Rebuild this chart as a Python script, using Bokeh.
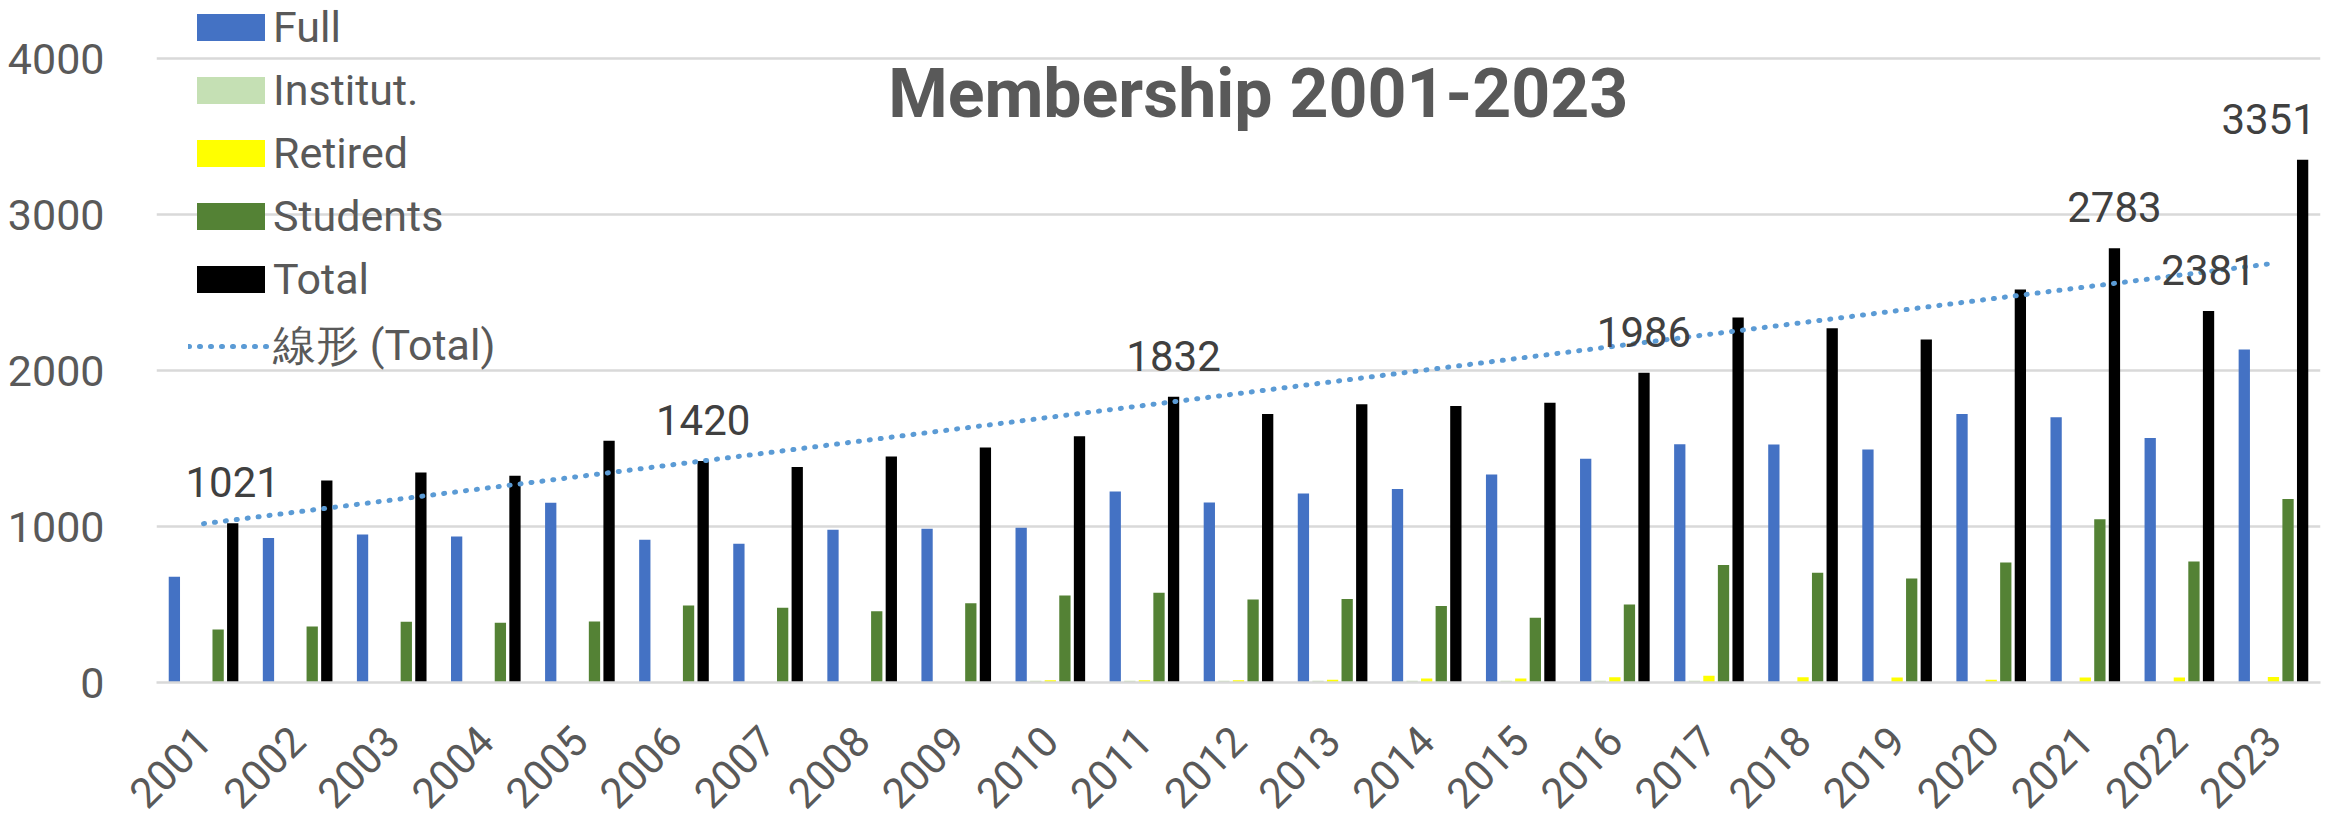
import math
import numpy as np
from bokeh.plotting import figure
from bokeh.models import (ColumnDataSource, FactorRange, Range1d, FixedTicker,
                          Legend, LegendItem, Label)
from bokeh.transform import dodge
from bokeh.core.properties import value
from bokeh.embed import file_html
from bokeh.resources import INLINE

# ---------------- data ----------------
years = [str(y) for y in range(2001, 2024)]
full = [678, 927, 949, 936, 1152, 915, 889, 979, 985, 992, 1224, 1154,
        1212, 1241, 1333, 1434, 1528, 1526, 1494, 1722, 1701, 1568, 2135]
institut = [2, 2, 2, 2, 2, 2, 2, 2, 3, 11, 11, 11, 11, 11, 11, 11, 11, 4,
            0, 0, 0, 0, 0]
retired = [0, 0, 0, 0, 0, 0, 0, 2, 3, 15, 15, 15, 17, 26, 26, 34, 43, 34,
           32, 17, 32, 32, 36]
students = [340, 359, 389, 383, 391, 494, 479, 457, 508, 558, 575, 532,
            536, 491, 415, 500, 754, 703, 667, 769, 1047, 776, 1177]
total = [1021, 1295, 1346, 1325, 1549, 1420, 1382, 1449, 1506, 1579, 1832,
         1722, 1784, 1773, 1793, 1986, 2340, 2271, 2199, 2519, 2783, 2381, 3351]
labelled_years = ["2001", "2006", "2011", "2016", "2021", "2022", "2023"]
y_ticks = [0, 1000, 2000, 3000, 4000]
title_text = "Membership 2001-2023"
trend_label = "線形 (Total)"

# ---------------- styling ----------------
FONT = "Roboto"
AX_COLOR = "#595959"
GRID = "#D9D9D9"
series = [("full", "Full", "#4472C4"),
          ("institut", "Institut.", "#C5E0B4"),
          ("retired", "Retired", "#FFFF00"),
          ("students", "Students", "#548235"),
          ("total", "Total", "#000000")]
slot = 0.155
bar_w = 0.12
label_dx = {"2023": -34}
# the frame reaches the top of the canvas (legend sits above the 4000 line)
y_top = 4372

# linear trend of Total (least squares over year index)
idx = np.arange(1, len(total) + 1)
k, b = np.polyfit(idx, np.array(total, dtype=float), 1)
trend = list(k * idx + b)

src = ColumnDataSource(dict(year=years, full=full, institut=institut,
                            retired=retired, students=students, total=total,
                            trend=trend))

lab_rows = [i for i, y in enumerate(years) if y in labelled_years]
lab_src = ColumnDataSource(dict(
    year=[years[i] for i in lab_rows],
    total=[total[i] for i in lab_rows],
    txt=[str(total[i]) for i in lab_rows],
    dx=[label_dx.get(years[i], 0) for i in lab_rows],
))

p = figure(x_range=FactorRange(factors=years, range_padding=0),
           y_range=Range1d(0, y_top),
           frame_width=2164, frame_height=682,
           output_backend="svg", toolbar_location=None,
           min_border_left=156, min_border_right=23,
           min_border_top=0, min_border_bottom=134)
p.outline_line_color = None
p.background_fill_color = "white"
p.border_fill_color = "white"

renderers = {}
n = len(series)
for j, (col, name, color) in enumerate(series):
    off = (j - (n - 1) / 2) * slot
    r = p.vbar(x=dodge("year", off, range=p.x_range), top=col, width=bar_w,
               source=src, fill_color=color, line_color=None)
    renderers[col] = r

tr = p.line(x="year", y="trend", source=src, line_color="#5B9BD5",
            line_width=5, line_dash="1 10", line_cap="round")

p.text(x=dodge("year", 2 * slot, range=p.x_range), y="total", text="txt",
       source=lab_src, x_offset="dx", y_offset=-41,
       text_font=value(FONT), text_font_size="42px", text_color="#404040",
       text_align="center", text_baseline="middle")

# title inside the plot area
p.add_layout(Label(x=11.71, y=3772, text=title_text, text_font=FONT,
                   text_font_size="68px", text_font_style="bold",
                   text_color=AX_COLOR, text_align="center",
                   text_baseline="middle"))

# axes
p.yaxis.ticker = FixedTicker(ticks=y_ticks)
p.yaxis.axis_line_color = None
p.yaxis.major_tick_line_color = None
p.yaxis.minor_tick_line_color = None
p.yaxis.major_label_text_font = FONT
p.yaxis.major_label_text_font_size = "43px"
p.yaxis.major_label_text_color = AX_COLOR
p.yaxis.major_label_standoff = 46

p.xaxis.axis_line_color = GRID
p.xaxis.axis_line_width = 2.5
p.xaxis.major_tick_line_color = None
p.xaxis.minor_tick_line_color = None
p.xaxis.major_label_orientation = math.pi / 4
p.xaxis.major_label_text_font = FONT
p.xaxis.major_label_text_font_size = "42px"
p.xaxis.major_label_text_color = AX_COLOR
p.xaxis.major_label_standoff = 45

p.ygrid.grid_line_color = GRID
p.ygrid.grid_line_width = 2.5
p.xgrid.grid_line_color = None

items = [LegendItem(label=name, renderers=[renderers[col]])
         for col, name, color in series]
items.append(LegendItem(label=trend_label, renderers=[tr]))
legend = Legend(items=items, location=(32, 307), orientation="vertical",
                glyph_width=85, glyph_height=34, label_standoff=0,
                label_height=34, spacing=13, padding=0, margin=0,
                border_line_alpha=0, background_fill_alpha=0,
                label_text_font=FONT, label_text_font_size="43px",
                label_text_color=AX_COLOR)
p.add_layout(legend)

open("out.html", "w").write(file_html(p, INLINE))
